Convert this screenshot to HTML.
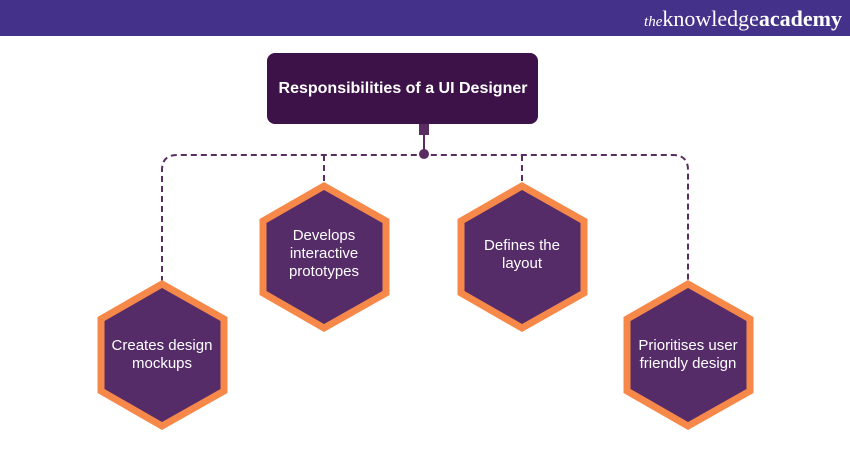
<!DOCTYPE html>
<html><head><meta charset="utf-8"><style>
body{margin:0;width:850px;height:450px;background:#fff;overflow:hidden;font-family:"Liberation Sans",sans-serif}
</style></head><body>
<svg width="850" height="450" viewBox="0 0 850 450" xmlns="http://www.w3.org/2000/svg">
<rect x="0" y="0" width="850" height="36" fill="#44328a"/>
<text x="842" y="26" text-anchor="end" font-family="Liberation Serif,serif" font-size="22" fill="#fff"><tspan font-style="italic" font-size="15">the</tspan>knowledge<tspan font-weight="bold">academy</tspan></text>
<rect x="267" y="53" width="271" height="71" rx="8" fill="#3d1248"/>
<text x="403" y="93" text-anchor="middle" font-size="16" font-weight="bold" fill="#fff">Responsibilities of a UI Designer</text>
<rect x="419" y="124" width="10" height="11" fill="#5a2d62"/>
<line x1="424" y1="134" x2="424" y2="154" stroke="#5a2d62" stroke-width="2"/>
<circle cx="424" cy="154" r="5" fill="#5a2d62"/>
<g fill="none" stroke="#5a2d62" stroke-width="2" stroke-dasharray="6,4">
<path d="M162 282 V170 Q162 155 177 155 H673 Q688 155 688 170 V282"/>
<line x1="324" y1="155" x2="324" y2="184"/>
<line x1="522" y1="155" x2="522" y2="184"/>
</g>
<g stroke="#f6894a" stroke-width="7" fill="#552b68" stroke-linejoin="miter">
<polygon points="162,284 224,319 224,391 162,426 101,391 101,319"/>
<polygon points="324,186 386,221 386,293 324,328 263,293 263,221"/>
<polygon points="522,186 584,221 584,293 522,328 461,293 461,221"/>
<polygon points="688,284 750,319 750,391 688,426 627,391 627,319"/>
</g>
<g fill="#fff" font-size="15" text-anchor="middle">
<text x="162" y="350">Creates design</text><text x="162" y="368">mockups</text>
<text x="324" y="240">Develops</text><text x="324" y="258">interactive</text><text x="324" y="276">prototypes</text>
<text x="522" y="250">Defines the</text><text x="522" y="268">layout</text>
<text x="688" y="350">Prioritises user</text><text x="688" y="368">friendly design</text>
</g>
</svg>
</body></html>
